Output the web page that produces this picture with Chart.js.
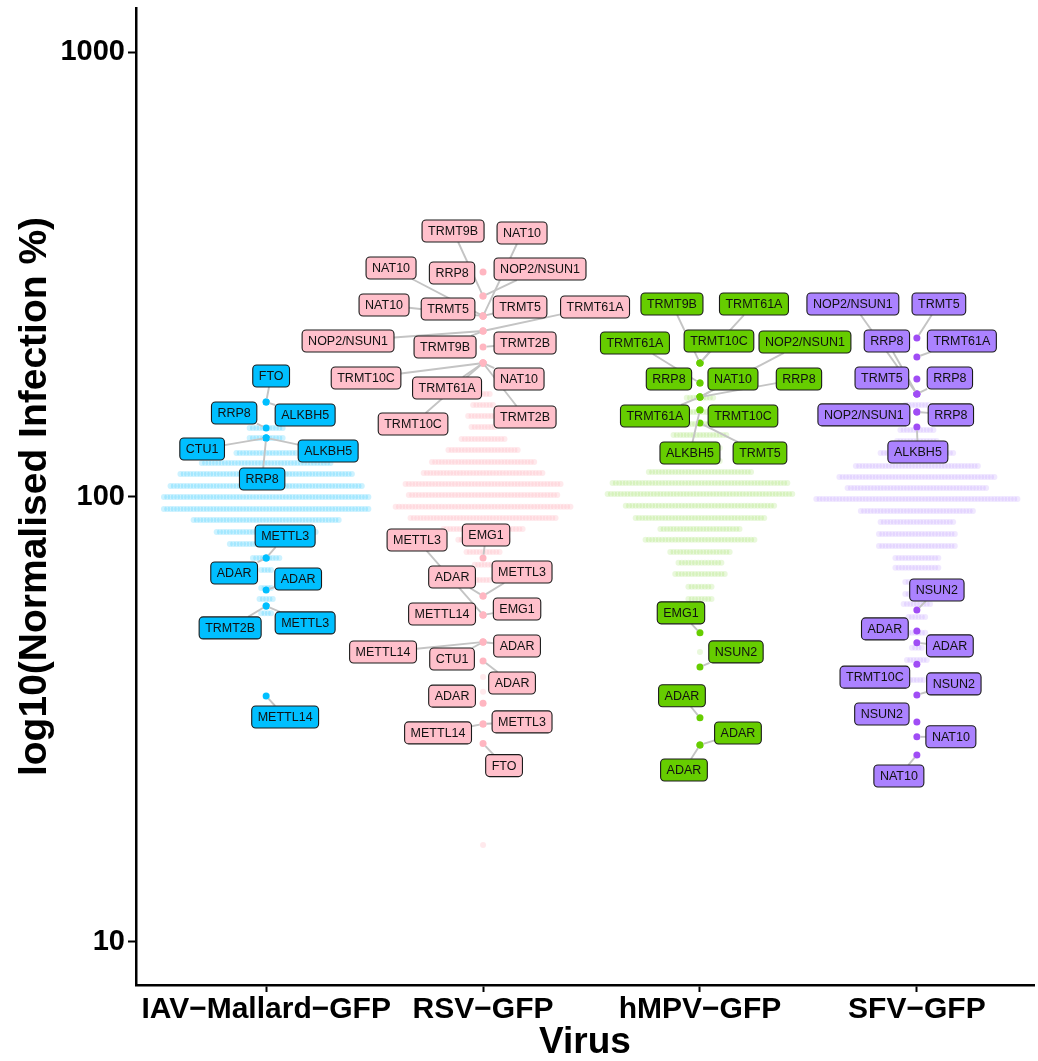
<!DOCTYPE html>
<html>
<head>
<title>Normalised infection per virus</title>
<style>
    body {
        margin: 0;
        padding: 0;
        background: #ffffff;
    }
    #chart-container {
        width: 1038px;
        height: 1061px;
    }
</style>
</head>
<body>
<div id="chart-container">
    <canvas id="chart" width="1038" height="1061"></canvas>
</div>
<script src="https://cdn.jsdelivr.net/npm/chart.js"></script>
<script>
    // Categories and axis ticks
    const viruses = ['IAV\u2212Mallard\u2212GFP', 'RSV\u2212GFP', 'hMPV\u2212GFP', 'SFV\u2212GFP'];
    const yTicks = [10, 100, 1000];

    // Non-hit genes, binned in swarm rows: row value and how many genes sit in it
    const iavRowValues = [142.9, 135.7, 125.6, 119.2, 112.6, 105.9, 100.0, 94.0, 88.8, 83.4, 78.4, 72.9, 68.5, 62.4, 59.0, 54.8];
    const iavRowCounts = [11, 11, 19, 40, 53, 59, 63, 63, 45, 31, 23, 9, 4, 4, 5, 4];
    const rsvRowValues = [170.4, 160.9, 152.0, 143.6, 134.9, 127.5, 119.9, 113.2, 106.9, 101.0, 95.0, 89.7, 84.7, 80.1, 75.2, 70.4, 65.1, 39.4, 36.5, 16.5];
    const rsvRowCounts = [5, 7, 10, 8, 14, 22, 32, 37, 48, 46, 54, 45, 25, 16, 11, 6, 5, 1, 1, 1];
    const hmpvRowValues = [167.0, 155.3, 145.9, 137.8, 128.8, 120.5, 113.8, 107.5, 101.6, 95.5, 89.7, 84.7, 80.1, 75.2, 71.1, 67.1, 62.8, 59.0, 44.8];
    const hmpvRowCounts = [9, 7, 8, 17, 13, 13, 32, 54, 57, 46, 40, 25, 34, 19, 14, 16, 8, 8, 1];
    const sfvRowValues = [160.9, 141.5, 133.6, 125.6, 117.4, 110.9, 104.8, 99.0, 93.0, 87.8, 82.6, 77.6, 72.9, 69.3, 64.4, 60.5, 57.5, 53.7, 49.5, 45.8, 43.0, 38.8];
    const sfvRowCounts = [8, 11, 13, 23, 38, 48, 43, 62, 35, 23, 24, 24, 14, 14, 8, 8, 9, 6, 6, 4, 7, 5];

    // Labelled hits
    const iavHitGenes = ['FTO', 'ALKBH5', 'RRP8', 'CTU1', 'ALKBH5', 'RRP8', 'METTL3', 'ADAR', 'ADAR', 'TRMT2B', 'METTL3', 'METTL14'];
    const iavHitValues = [163.5, 163.5, 142.9, 135.7, 135.7, 135.7, 72.9, 72.9, 61.8, 56.9, 56.9, 35.7];
    const rsvHitGenes = ['RRP8', 'TRMT9B', 'NOP2/NSUN1', 'NAT10', 'NAT10', 'NAT10', 'TRMT5', 'TRMT5', 'TRMT61A', 'NOP2/NSUN1', 'TRMT9B', 'TRMT2B',
        'TRMT10C', 'TRMT61A', 'NAT10', 'TRMT10C', 'TRMT2B', 'EMG1', 'METTL3', 'ADAR', 'METTL3', 'METTL14', 'EMG1', 'METTL14', 'ADAR', 'CTU1',
        'ADAR', 'ADAR', 'METTL3', 'METTL14', 'FTO'];
    const rsvHitValues = [320.3, 282.9, 282.9, 255.1, 255.1, 255.1, 255.1, 255.1, 236.1, 236.1, 236.1, 217.3,
        200.0, 200.0, 200.0, 200.0, 200.0, 72.9, 54.3, 59.9, 59.9, 54.3, 54.3, 47.2, 47.2, 47.2,
        42.8, 34.4, 30.9, 30.9, 27.9];
    const hmpvHitGenes = ['TRMT9B', 'TRMT61A', 'TRMT10C', 'TRMT61A', 'RRP8', 'NOP2/NSUN1', 'NAT10', 'RRP8', 'TRMT61A', 'TRMT10C', 'ALKBH5', 'TRMT5',
        'EMG1', 'NSUN2', 'ADAR', 'ADAR', 'ADAR'];
    const hmpvHitValues = [200.0, 200.0, 200.0, 180.3, 180.3, 167.8, 167.8, 167.8, 167.8, 156.9, 156.9, 146.6,
        49.5, 41.5, 31.9, 27.7, 27.7];
    const sfvHitGenes = ['TRMT5', 'TRMT61A', 'TRMT5', 'NOP2/NSUN1', 'RRP8', 'RRP8', 'NOP2/NSUN1', 'RRP8', 'ALKBH5',
        'NSUN2', 'ADAR', 'ADAR', 'TRMT10C', 'NSUN2', 'NSUN2', 'NAT10', 'NAT10'];
    const sfvHitValues = [227.6, 206.4, 184.1, 170.4, 170.4, 170.4, 155.3, 155.3, 143.6,
        55.7, 50.0, 47.0, 42.1, 35.9, 31.2, 28.9, 26.3];

    // Label placement (pixel offset of each label box from its point), like ggrepel left them
    const iavLabelOffsets = [[5, -26], [39, 13], [-32, -15], [-64, 11], [62, 13], [-4, 41], [19, -22], [-32, 15], [32, -11], [-36, 22], [39, 17], [19, 21]];
    const rsvLabelOffsets = [[-31, 1], [-30, -65], [57, -27], [39, -83], [-92, -48], [-99, -11], [-35, -7], [37, -9], [112, -24], [-135, 10], [-38, 16], [42, -4],
        [-117, 15], [-36, 25], [36, 16], [-70, 61], [42, 54], [3, -23], [-66, -75], [-31, -19], [39, -24], [-41, -1], [34, -6], [-100, 10], [34, 4], [-31, 17],
        [29, 22], [-31, -7], [39, -2], [-45, 9], [21, 22]];
    const hmpvLabelOffsets = [[-28, -59], [54, -59], [19, -22], [-65, -40], [-31, -4], [105, -55], [33, -18], [99, -18], [-45, 19], [43, 6], [-10, 43], [60, 30],
        [-19, -20], [36, -15], [-18, -22], [38, -12], [-16, 25]];
    const sfvLabelOffsets = [[22, -34], [45, -16], [-35, -1], [-64, -90], [-30, -53], [33, -16], [-53, 3], [34, 3], [1, 25],
        [20, -20], [-32, -2], [33, 3], [-42, 13], [37, -11], [-35, -8], [34, 0], [-18, 21]];

    const FONT = '"Liberation Sans", Arial, Helvetica, sans-serif';
    const DOT_STEP = 0.0152; // horizontal spacing of swarm dots, in category units

    const groups = [
        {rows: iavRowValues, counts: iavRowCounts, genes: iavHitGenes, values: iavHitValues, offsets: iavLabelOffsets,
         faint: 'rgba(0, 191, 255, 0.2)', dot: '#00BFFF', fill: '#00BFFF'},
        {rows: rsvRowValues, counts: rsvRowCounts, genes: rsvHitGenes, values: rsvHitValues, offsets: rsvLabelOffsets,
         faint: 'rgba(255, 182, 193, 0.3)', dot: '#FFB6C1', fill: '#FFC0CB'},
        {rows: hmpvRowValues, counts: hmpvRowCounts, genes: hmpvHitGenes, values: hmpvHitValues, offsets: hmpvLabelOffsets,
         faint: 'rgba(102, 205, 0, 0.14)', dot: '#66CD00', fill: '#66CD00'},
        {rows: sfvRowValues, counts: sfvRowCounts, genes: sfvHitGenes, values: sfvHitValues, offsets: sfvLabelOffsets,
         faint: 'rgba(171, 130, 255, 0.18)', dot: '#A04DF5', fill: '#AB82FF'},
    ];

    // Lay out each swarm row side by side around the category centre
    function swarmPoints(index, values, counts) {
        const pts = [];
        values.forEach((v, r) => {
            const n = counts[r];
            for (let k = 0; k < n; k++) {
                pts.push({x: index + (k - (n - 1) / 2) * DOT_STEP, y: v});
            }
        });
        return pts;
    }

    const datasets = [];
    groups.forEach((g, i) => {
        datasets.push({
            label: viruses[i] + ' hits',
            data: g.values.map(v => ({x: i, y: v})),
            backgroundColor: g.dot,
            borderWidth: 0,
            pointRadius: 3.5,
            order: 0,
        });
        datasets.push({
            label: viruses[i] + ' others',
            data: swarmPoints(i, g.rows, g.counts),
            backgroundColor: g.faint,
            borderWidth: 0,
            pointRadius: 3,
            order: 1,
        });
    });

    // Label boxes with leader segments, drawn on top of the points
    const repelLabels = {
        id: 'repelLabels',
        afterDatasetsDraw(chart) {
            const ctx = chart.ctx;
            const xs = chart.scales.x, ys = chart.scales.y;
            ctx.save();
            ctx.font = '12.5px ' + FONT;
            const boxes = [];
            groups.forEach((g, vi) => {
                g.genes.forEach((gene, i) => {
                    const px = xs.getPixelForValue(vi);
                    const py = ys.getPixelForValue(g.values[i]);
                    boxes.push({
                        gene, px, py,
                        cx: px + g.offsets[i][0], cy: py + g.offsets[i][1],
                        w: ctx.measureText(gene).width + 12, h: 22, fill: g.fill,
                    });
                });
            });

            // segments from the box edge to the point
            ctx.strokeStyle = '#c4c4c4';
            ctx.lineWidth = 1.9;
            boxes.forEach(b => {
                const dx = b.px - b.cx, dy = b.py - b.cy;
                const tx = dx !== 0 ? (b.w / 2) / Math.abs(dx) : Infinity;
                const ty = dy !== 0 ? (b.h / 2) / Math.abs(dy) : Infinity;
                const t = Math.min(tx, ty);
                if (t >= 1) return;
                const ex = b.cx + dx * t, ey = b.cy + dy * t;
                const len = Math.hypot(b.px - ex, b.py - ey);
                if (len < 9) return;
                const k = (len - 3.5) / len;
                ctx.beginPath();
                ctx.moveTo(ex, ey);
                ctx.lineTo(ex + (b.px - ex) * k, ey + (b.py - ey) * k);
                ctx.stroke();
            });

            boxes.forEach(b => {
                ctx.beginPath();
                ctx.roundRect(b.cx - b.w / 2, b.cy - b.h / 2, b.w, b.h, 4);
                ctx.fillStyle = b.fill;
                ctx.fill();
                ctx.strokeStyle = '#1a1a1a';
                ctx.lineWidth = 1.1;
                ctx.stroke();
                ctx.fillStyle = '#111111';
                ctx.textAlign = 'center';
                ctx.textBaseline = 'middle';
                ctx.fillText(b.gene, b.cx, b.cy + 0.5);
            });
            ctx.restore();
        }
    };

    const ctx = document.getElementById('chart').getContext('2d');
    const chart = new Chart(ctx, {
        type: 'scatter',
        data: {datasets: datasets},
        options: {
            responsive: false,
            animation: false,
            layout: {padding: {top: 8, right: 0, bottom: 0, left: 0}},
            plugins: {
                legend: {display: false},
                tooltip: {enabled: false},
            },
            scales: {
                x: {
                    type: 'linear',
                    min: -0.6,
                    max: 3.54,
                    afterBuildTicks: scale => { scale.ticks = viruses.map((v, i) => ({value: i})); },
                    afterFit: scale => {
                        scale.height = 76;
                        scale.paddingLeft = 0;
                        scale.paddingRight = 0;
                    },
                    ticks: {
                        callback: value => viruses[value],
                        font: {family: FONT, size: 30, weight: 'bold'},
                        color: '#000000',
                        padding: 0,
                        maxRotation: 0,
                        autoSkip: false,
                    },
                    grid: {drawOnChartArea: false, tickLength: 7, tickWidth: 2, tickColor: '#000000'},
                    border: {color: '#000000', width: 2.5},
                    title: {
                        display: true,
                        text: 'Virus',
                        font: {family: FONT, size: 37, weight: 'bold', lineHeight: 1},
                        color: '#000000',
                        padding: {top: 0, bottom: 0},
                    },
                },
                y: {
                    type: 'logarithmic',
                    min: 8.0,
                    max: 1256,
                    afterBuildTicks: scale => { scale.ticks = yTicks.map(v => ({value: v})); },
                    afterFit: scale => {
                        scale.width = 136;
                        scale.paddingTop = 0;
                        scale.paddingBottom = 0;
                    },
                    ticks: {
                        callback: value => String(value),
                        font: {family: FONT, size: 29, weight: 'bold'},
                        color: '#000000',
                        padding: 3,
                    },
                    grid: {drawOnChartArea: false, tickLength: 8, tickWidth: 2, tickColor: '#000000'},
                    border: {color: '#000000', width: 2.5},
                    title: {
                        display: true,
                        text: 'log10(Normalised Infection %)',
                        font: {family: FONT, size: 39, weight: 'bold', lineHeight: 1},
                        color: '#000000',
                        padding: {top: 16, bottom: 0},
                    },
                },
            },
        },
        plugins: [repelLabels],
    });
</script>
</body>
</html>
